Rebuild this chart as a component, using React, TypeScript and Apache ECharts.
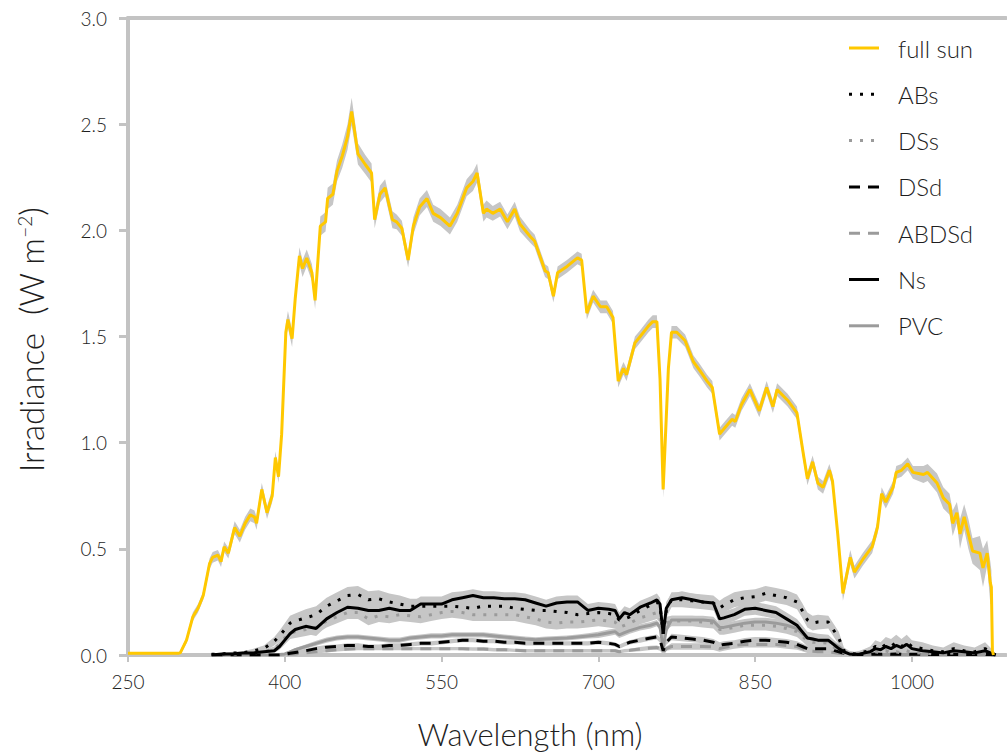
import React, { useEffect, useRef } from "react";
import * as echarts from "echarts";

// ---------------- data ----------------
const xTicks = [250, 400, 550, 700, 850, 1000];
const legendNames = ["full sun", "ABs", "DSs", "DSd", "ABDSd", "Ns", "PVC"];

const fullSunWl = [
  250, 260, 270, 280, 290, 298,
  300, 306, 312, 317, 322, 326, 328, 331, 336, 339, 342, 346,
  352, 357, 362, 367, 371, 373, 378, 383, 388, 391, 394, 397,
  401, 403, 407, 410, 414, 417, 421, 426, 429,
  434, 439, 441, 446, 450, 455, 460, 464,
  470, 477, 483, 486, 491, 496, 503, 507, 512, 518, 523, 529, 536, 542, 549,
  558, 565, 574, 580, 584, 590, 593, 599, 606, 613, 620, 625,
  635, 639, 649, 652, 657, 661, 670, 680, 684, 689, 695, 702, 708, 714, 719, 724, 727, 735, 740, 748, 752, 756,
  759, 762, 767, 770, 775, 783, 791, 797, 804, 809, 816, 821, 828, 831, 837, 845, 854, 861, 867, 871,
  881, 890, 896, 900, 905, 910, 915, 921, 924, 929, 934, 941, 945, 953, 962, 967, 971, 975, 982, 985, 990, 996, 1001,
  1011, 1015, 1024, 1030, 1036, 1039, 1043, 1046, 1050, 1054, 1058, 1065, 1068, 1072, 1075, 1076, 1077, 1078,
];
const fullSunVal = [
  0.008, 0.008, 0.008, 0.008, 0.008, 0.008,
  0.01, 0.07, 0.18, 0.22, 0.28, 0.38, 0.43, 0.46, 0.47, 0.44, 0.51, 0.48,
  0.6, 0.56, 0.62, 0.66, 0.65, 0.62, 0.78, 0.67, 0.75, 0.93, 0.84, 1.04,
  1.52, 1.58, 1.49, 1.68, 1.88, 1.82, 1.87, 1.8, 1.67,
  2.02, 2.04, 2.15, 2.17, 2.28, 2.35, 2.44, 2.56,
  2.36, 2.31, 2.27, 2.05, 2.17, 2.2, 2.05, 2.04, 2.01, 1.86, 2.02, 2.11, 2.15, 2.08, 2.06,
  2.02, 2.08, 2.2, 2.23, 2.27, 2.08, 2.1, 2.08, 2.1, 2.04, 2.1, 2.03,
  1.97, 1.95, 1.81, 1.8, 1.69, 1.8, 1.83, 1.87, 1.86, 1.61, 1.69, 1.64, 1.64, 1.59, 1.29, 1.35, 1.32, 1.47, 1.5, 1.55, 1.57, 1.57,
  1.3, 0.78, 1.35, 1.52, 1.52, 1.48, 1.38, 1.34, 1.29, 1.26, 1.04, 1.07, 1.11, 1.1, 1.18, 1.25, 1.15, 1.26, 1.17, 1.25,
  1.2, 1.14, 0.95, 0.83, 0.91, 0.81, 0.79, 0.87, 0.82, 0.57, 0.29, 0.46, 0.39, 0.45, 0.51, 0.6, 0.76, 0.72, 0.79, 0.86, 0.87, 0.9, 0.86,
  0.85, 0.86, 0.81, 0.74, 0.71, 0.62, 0.67, 0.57, 0.65, 0.57, 0.49, 0.48, 0.41, 0.48, 0.34, 0.32, 0.02, 0,
];
const fullSunSe = [
  0, 0, 0, 0, 0, 0,
  0.01, 0.015, 0.02, 0.02, 0.02, 0.025, 0.025, 0.025, 0.025, 0.025, 0.025, 0.025,
  0.03, 0.03, 0.03, 0.03, 0.03, 0.03, 0.03, 0.03, 0.03, 0.03, 0.03, 0.03,
  0.04, 0.04, 0.04, 0.04, 0.04, 0.04, 0.04, 0.04, 0.04,
  0.045, 0.045, 0.05, 0.05, 0.05, 0.055, 0.06, 0.065,
  0.05, 0.045, 0.045, 0.04, 0.04, 0.04, 0.04, 0.035, 0.035, 0.035, 0.04, 0.04, 0.04, 0.04, 0.04,
  0.04, 0.04, 0.04, 0.045, 0.045, 0.04, 0.04, 0.035, 0.035, 0.035, 0.035, 0.035,
  0.03, 0.03, 0.03, 0.03, 0.03, 0.03, 0.03, 0.03, 0.03, 0.03, 0.03, 0.03, 0.03, 0.03, 0.03, 0.03, 0.03, 0.03, 0.03, 0.03, 0.03, 0.03,
  0.03, 0.04, 0.03, 0.03, 0.03, 0.03, 0.03, 0.03, 0.03, 0.03, 0.03, 0.03, 0.03, 0.03, 0.03, 0.03, 0.03, 0.03, 0.03, 0.03,
  0.03, 0.03, 0.03, 0.03, 0.03, 0.03, 0.03, 0.03, 0.03, 0.03, 0.035, 0.035, 0.03, 0.03, 0.03, 0.03, 0.03, 0.03, 0.03, 0.03, 0.03, 0.03, 0.03,
  0.04, 0.04, 0.045, 0.05, 0.05, 0.06, 0.05, 0.07, 0.06, 0.07, 0.06, 0.08, 0.09, 0.06, 0.1, 0.08, 0.02, 0,
];

// understory wavelengths (shared by the six shade series)
const shadeWl = [
  330, 340, 350, 360, 370, 380, 390,
  395, 400, 405, 410,
  420, 430, 440, 450, 460, 470, 480, 490, 500, 510, 520, 530, 540, 550, 560, 570, 580, 590, 600, 610, 620, 630, 640, 650, 660, 670, 680, 690, 700, 710,
  716, 720, 725, 730,
  740, 750,
  756, 759, 762, 765,
  770, 780, 790, 800, 810,
  816,
  820, 830, 840, 850, 860, 870, 880, 890,
  895, 900, 905, 910,
  920, 930, 935, 940,
  945, 950, 955, 960, 965, 970, 975, 980, 985, 990, 995, 1000,
  1010, 1020, 1030, 1040, 1050, 1060, 1070,
  1075, 1080,
];

const nsVal = [
  0, 0.005, 0.005, 0.01, 0.01, 0.015, 0.02,
  0.04, 0.07, 0.1, 0.12,
  0.135, 0.125, 0.17, 0.2, 0.225, 0.22, 0.21, 0.21, 0.22, 0.21, 0.21, 0.24, 0.24, 0.24, 0.26, 0.27, 0.28, 0.27, 0.27, 0.265, 0.265, 0.26, 0.245, 0.23, 0.245, 0.25, 0.25, 0.21, 0.22, 0.215,
  0.21, 0.17, 0.2, 0.19,
  0.225, 0.245,
  0.26, 0.24, 0.1, 0.22,
  0.26, 0.27, 0.26, 0.25, 0.245,
  0.17,
  0.175, 0.19, 0.215, 0.22, 0.21, 0.2, 0.17, 0.14,
  0.11, 0.08, 0.075, 0.07,
  0.07, 0.03, 0.015, 0.005,
  0.003, 0.005, 0.01, 0.015, 0.03, 0.025, 0.04, 0.03, 0.045, 0.035, 0.05, 0.03,
  0.02, 0.015, 0.01, 0.02, 0.015, 0.01, 0.02,
  0.01, 0,
];
const nsSe = [
  0.005, 0.005, 0.005, 0.005, 0.005, 0.008, 0.01,
  0.015, 0.02, 0.025, 0.03,
  0.035, 0.035, 0.035, 0.035, 0.035, 0.035, 0.035, 0.035, 0.035, 0.035, 0.035, 0.035, 0.035, 0.035, 0.035, 0.03, 0.03, 0.03, 0.03, 0.03, 0.03, 0.03, 0.03, 0.03, 0.03, 0.03, 0.03, 0.03, 0.03, 0.03,
  0.03, 0.03, 0.03, 0.03,
  0.03, 0.03,
  0.03, 0.03, 0.03, 0.03,
  0.03, 0.03, 0.03, 0.03, 0.03,
  0.03,
  0.03, 0.03, 0.03, 0.03, 0.03, 0.03, 0.03, 0.03,
  0.03, 0.03, 0.03, 0.03,
  0.025, 0.02, 0.015, 0.01,
  0.01, 0.01, 0.015, 0.02, 0.03, 0.03, 0.035, 0.03, 0.035, 0.03, 0.035, 0.03,
  0.025, 0.02, 0.02, 0.03, 0.025, 0.02, 0.03,
  0.02, 0,
];

const absVal = [
  0.003, 0.005, 0.01, 0.01, 0.02, 0.03, 0.065,
  0.09, 0.12, 0.15, 0.16,
  0.175, 0.19, 0.23, 0.255, 0.28, 0.285, 0.26, 0.265, 0.25, 0.24, 0.23, 0.23, 0.23, 0.23, 0.23, 0.225, 0.22, 0.23, 0.23, 0.23, 0.22, 0.215, 0.21, 0.21, 0.205, 0.2, 0.19, 0.195, 0.2, 0.195,
  0.19, 0.165, 0.17, 0.18,
  0.21, 0.235,
  0.25, 0.23, 0.1, 0.21,
  0.26, 0.26, 0.255, 0.25, 0.245,
  0.22,
  0.235, 0.26, 0.27, 0.275, 0.29, 0.28, 0.27, 0.25,
  0.21, 0.165, 0.15, 0.155,
  0.155, 0.08, 0.02, 0.01,
  0.005, 0.01, 0.015, 0.02, 0.04, 0.03, 0.05, 0.04, 0.06, 0.04, 0.06, 0.04,
  0.03, 0.02, 0.015, 0.03, 0.02, 0.015, 0.03,
  0.015, 0,
];
const absSe = [
  0.005, 0.005, 0.005, 0.008, 0.01, 0.015, 0.02,
  0.025, 0.03, 0.035, 0.035,
  0.04, 0.04, 0.04, 0.04, 0.04, 0.04, 0.04, 0.04, 0.04, 0.04, 0.035, 0.035, 0.035, 0.035, 0.035, 0.035, 0.035, 0.035, 0.035, 0.035, 0.035, 0.035, 0.035, 0.035, 0.035, 0.035, 0.035, 0.035, 0.035, 0.035,
  0.035, 0.035, 0.035, 0.035,
  0.035, 0.035,
  0.035, 0.035, 0.035, 0.035,
  0.035, 0.035, 0.035, 0.035, 0.035,
  0.035,
  0.035, 0.035, 0.035, 0.035, 0.035, 0.035, 0.035, 0.035,
  0.035, 0.035, 0.035, 0.035,
  0.03, 0.03, 0.015, 0.01,
  0.01, 0.01, 0.015, 0.02, 0.03, 0.03, 0.035, 0.035, 0.035, 0.035, 0.035, 0.03,
  0.03, 0.025, 0.02, 0.03, 0.025, 0.02, 0.03,
  0.02, 0,
];

const dssVal = [
  0, 0, 0.003, 0.005, 0.01, 0.015, 0.03,
  0.05, 0.08, 0.1, 0.11,
  0.12, 0.13, 0.16, 0.18, 0.2, 0.2, 0.17, 0.185, 0.18, 0.19, 0.185, 0.18, 0.19, 0.2, 0.205, 0.2, 0.19, 0.19, 0.19, 0.19, 0.19, 0.18, 0.17, 0.155, 0.15, 0.155, 0.155, 0.16, 0.165, 0.16,
  0.155, 0.13, 0.14, 0.15,
  0.175, 0.19,
  0.2, 0.18, 0.06, 0.15,
  0.16, 0.16, 0.16, 0.155, 0.15,
  0.12,
  0.12, 0.13, 0.14, 0.14, 0.14, 0.135, 0.125, 0.11,
  0.09, 0.065, 0.06, 0.06,
  0.055, 0.02, 0.01, 0.005,
  0.005, 0.005, 0.01, 0.01, 0.015, 0.01, 0.02, 0.01, 0.015, 0.01, 0.02, 0.01,
  0.01, 0.005, 0.005, 0.01, 0.005, 0.01, 0.005,
  0.005, 0,
];
const dssSe = [
  0, 0, 0.003, 0.005, 0.005, 0.008, 0.01,
  0.015, 0.02, 0.025, 0.03,
  0.03, 0.03, 0.03, 0.03, 0.03, 0.03, 0.03, 0.03, 0.03, 0.03, 0.03, 0.03, 0.03, 0.03, 0.03, 0.03, 0.03, 0.03, 0.03, 0.03, 0.03, 0.03, 0.03, 0.03, 0.03, 0.03, 0.03, 0.03, 0.03, 0.03,
  0.03, 0.03, 0.03, 0.03,
  0.03, 0.03,
  0.03, 0.03, 0.03, 0.03,
  0.025, 0.025, 0.025, 0.025, 0.025,
  0.025,
  0.025, 0.025, 0.025, 0.025, 0.025, 0.025, 0.025, 0.025,
  0.025, 0.025, 0.025, 0.025,
  0.02, 0.015, 0.01, 0.005,
  0.005, 0.005, 0.01, 0.01, 0.015, 0.015, 0.02, 0.015, 0.02, 0.015, 0.02, 0.015,
  0.015, 0.01, 0.01, 0.015, 0.01, 0.01, 0.01,
  0.01, 0,
];

const dsdVal = [
  0, 0, 0, 0, 0, 0, 0,
  0, 0.003, 0.008, 0.012,
  0.02, 0.03, 0.037, 0.04, 0.045, 0.045, 0.04, 0.04, 0.045, 0.045, 0.05, 0.055, 0.055, 0.06, 0.065, 0.07, 0.07, 0.065, 0.065, 0.06, 0.06, 0.055, 0.055, 0.055, 0.055, 0.055, 0.055, 0.055, 0.06, 0.055,
  0.05, 0.04, 0.05, 0.06,
  0.07, 0.08,
  0.085, 0.07, 0.02, 0.06,
  0.085, 0.08, 0.075, 0.07, 0.06,
  0.045,
  0.05, 0.055, 0.065, 0.07, 0.07, 0.065, 0.06, 0.05,
  0.04, 0.03, 0.03, 0.03,
  0.03, 0.015, 0.008, 0.003,
  0.002, 0.002, 0.003, 0.003, 0.005, 0.003, 0.005, 0.003, 0.005, 0.003, 0.005, 0.003,
  0.003, 0.002, 0.002, 0.003, 0.002, 0.002, 0.002,
  0.002, 0,
];
const dsdSe = [
  0, 0, 0, 0, 0, 0, 0,
  0, 0.003, 0.005, 0.008,
  0.01, 0.01, 0.01, 0.01, 0.01, 0.01, 0.01, 0.01, 0.01, 0.01, 0.01, 0.01, 0.01, 0.01, 0.01, 0.01, 0.01, 0.01, 0.01, 0.01, 0.01, 0.01, 0.01, 0.01, 0.01, 0.01, 0.01, 0.01, 0.01, 0.01,
  0.01, 0.01, 0.01, 0.01,
  0.012, 0.012,
  0.012, 0.012, 0.01, 0.012,
  0.015, 0.015, 0.015, 0.015, 0.015,
  0.015,
  0.015, 0.015, 0.015, 0.015, 0.015, 0.015, 0.015, 0.015,
  0.015, 0.012, 0.012, 0.012,
  0.012, 0.01, 0.006, 0.003,
  0.002, 0.002, 0.003, 0.003, 0.004, 0.003, 0.004, 0.003, 0.004, 0.003, 0.004, 0.003,
  0.003, 0.002, 0.002, 0.003, 0.002, 0.002, 0.002,
  0.002, 0,
];

const abdsdVal = [
  0, 0, 0, 0, 0, 0, 0,
  0, 0, 0.003, 0.005,
  0.01, 0.015, 0.02, 0.025, 0.028, 0.03, 0.03, 0.03, 0.03, 0.03, 0.03, 0.03, 0.03, 0.03, 0.03, 0.03, 0.028, 0.028, 0.025, 0.025, 0.022, 0.02, 0.02, 0.02, 0.02, 0.02, 0.02, 0.02, 0.02, 0.02,
  0.02, 0.015, 0.02, 0.022,
  0.028, 0.033,
  0.035, 0.03, 0.01, 0.03,
  0.04, 0.04, 0.04, 0.04, 0.038,
  0.03,
  0.035, 0.045, 0.05, 0.05, 0.05, 0.05, 0.045, 0.04,
  0.03, 0.02, 0.018, 0.015,
  0.015, 0.008, 0.004, 0.002,
  0.002, 0.002, 0.002, 0.003, 0.002, 0.003, 0.002, 0.003, 0.002, 0.003, 0.002, 0.002,
  0.002, 0.002, 0.002, 0.002, 0.002, 0.002, 0.002,
  0.001, 0,
];
const abdsdSe = [
  0, 0, 0, 0, 0, 0, 0,
  0, 0, 0.003, 0.004,
  0.006, 0.008, 0.008, 0.008, 0.008, 0.008, 0.008, 0.008, 0.008, 0.008, 0.008, 0.008, 0.008, 0.008, 0.008, 0.008, 0.008, 0.008, 0.008, 0.008, 0.008, 0.008, 0.008, 0.008, 0.008, 0.008, 0.008, 0.008, 0.008, 0.008,
  0.008, 0.008, 0.008, 0.008,
  0.01, 0.01,
  0.01, 0.01, 0.008, 0.01,
  0.015, 0.015, 0.015, 0.015, 0.015,
  0.015,
  0.015, 0.015, 0.015, 0.015, 0.015, 0.015, 0.015, 0.015,
  0.012, 0.01, 0.01, 0.01,
  0.01, 0.006, 0.004, 0.002,
  0.002, 0.002, 0.002, 0.002, 0.002, 0.002, 0.002, 0.002, 0.002, 0.002, 0.002, 0.002,
  0.002, 0.002, 0.002, 0.002, 0.002, 0.002, 0.002,
  0.001, 0,
];

const pvcVal = [
  0, 0, 0, 0, 0, 0, 0,
  0.002, 0.005, 0.015, 0.025,
  0.04, 0.055, 0.07, 0.08, 0.085, 0.085, 0.08, 0.075, 0.07, 0.07, 0.08, 0.085, 0.09, 0.09, 0.095, 0.095, 0.095, 0.095, 0.09, 0.085, 0.08, 0.075, 0.072, 0.075, 0.078, 0.08, 0.085, 0.09, 0.095, 0.105,
  0.11, 0.095, 0.105, 0.115,
  0.13, 0.14,
  0.15, 0.13, 0.03, 0.12,
  0.165, 0.165, 0.165, 0.165, 0.16,
  0.13,
  0.13, 0.14, 0.15, 0.155, 0.155, 0.15, 0.14, 0.125,
  0.1, 0.08, 0.075, 0.07,
  0.065, 0.04, 0.02, 0.005,
  0.002, 0.002, 0.002, 0.002, 0.002, 0.002, 0.002, 0.002, 0.002, 0.002, 0.002, 0.002,
  0.002, 0.002, 0.002, 0.002, 0.002, 0.002, 0.002,
  0.001, 0,
];
const pvcSe = [
  0, 0, 0, 0, 0, 0, 0,
  0.002, 0.004, 0.006, 0.008,
  0.01, 0.012, 0.012, 0.012, 0.012, 0.012, 0.012, 0.012, 0.012, 0.012, 0.012, 0.012, 0.012, 0.012, 0.012, 0.012, 0.012, 0.012, 0.012, 0.012, 0.012, 0.012, 0.012, 0.012, 0.012, 0.012, 0.012, 0.012, 0.015, 0.015,
  0.015, 0.015, 0.015, 0.015,
  0.015, 0.015,
  0.015, 0.015, 0.01, 0.015,
  0.02, 0.02, 0.02, 0.02, 0.02,
  0.02,
  0.02, 0.02, 0.02, 0.02, 0.02, 0.02, 0.02, 0.02,
  0.02, 0.015, 0.015, 0.015,
  0.015, 0.012, 0.008, 0.003,
  0.002, 0.002, 0.002, 0.002, 0.002, 0.002, 0.002, 0.002, 0.002, 0.002, 0.002, 0.002,
  0.002, 0.002, 0.002, 0.002, 0.002, 0.002, 0.002,
  0.001, 0,
];

// ---------------- styling ----------------
const FONT = "Lato, 'Open Sans', sans-serif";
const TEXT = "#1e1e1e";
const AXIS = "#c3c3c3";
const BAND = "#c6c6c6";
const YELLOW = "#FFC800";
const GREY = "#9b9b9b";
const DOT: number[] = [3, 8];
const DASH: number[] = [11, 8];

type Spec = { name: string; wl: number[]; val: number[]; se: number[]; color: string; dash: number[] | null; z: number };

const specs: Spec[] = [
  { name: "PVC", wl: shadeWl, val: pvcVal, se: pvcSe, color: GREY, dash: null, z: 3 },
  { name: "ABDSd", wl: shadeWl, val: abdsdVal, se: abdsdSe, color: GREY, dash: DASH, z: 3 },
  { name: "DSd", wl: shadeWl, val: dsdVal, se: dsdSe, color: "#000", dash: DASH, z: 4 },
  { name: "DSs", wl: shadeWl, val: dssVal, se: dssSe, color: GREY, dash: DOT, z: 4 },
  { name: "ABs", wl: shadeWl, val: absVal, se: absSe, color: "#000", dash: DOT, z: 5 },
  { name: "Ns", wl: shadeWl, val: nsVal, se: nsSe, color: "#000", dash: null, z: 6 },
  { name: "full sun", wl: fullSunWl, val: fullSunVal, se: fullSunSe, color: YELLOW, dash: null, z: 7 },
];

const legendStyle: Record<string, { color: string; dash: number[] | null }> = {
  "full sun": { color: YELLOW, dash: null },
  ABs: { color: "#000", dash: DOT },
  DSs: { color: GREY, dash: DOT },
  DSd: { color: "#000", dash: DASH },
  ABDSd: { color: GREY, dash: DASH },
  Ns: { color: "#000", dash: null },
  PVC: { color: GREY, dash: null },
};

// band (mean ± SE) drawn as a polygon through the chart's own coordinate system
function bandSeries(s: Spec): any {
  return {
    type: "custom",
    name: s.name + " band",
    silent: true,
    clip: true,
    z: 1,
    data: [[s.wl[0], s.val[0]]],
    encode: { x: 0, y: 1 },
    renderItem: (_params: any, api: any) => {
      const upper = s.wl.map((x, i) => api.coord([x, s.val[i] + s.se[i]]));
      const lower = s.wl.map((x, i) => api.coord([x, Math.max(0, s.val[i] - s.se[i])])).reverse();
      return {
        type: "polygon",
        shape: { points: upper.concat(lower) },
        style: { fill: BAND, stroke: null },
      };
    },
  };
}

function lineSeries(s: Spec): any {
  return {
    type: "line",
    name: s.name,
    data: s.wl.map((x, i) => [x, s.val[i]]),
    symbol: "none",
    silent: true,
    z: s.z,
    itemStyle: { color: s.color },
    lineStyle: { color: s.color, width: 3, type: s.dash ? s.dash : "solid" },
    emphasis: { disabled: true },
  };
}

export default function App() {
  const ref = useRef<HTMLDivElement>(null);

  useEffect(() => {
    if (!ref.current) return;
    const chart = echarts.init(ref.current, undefined, { renderer: "svg" });

    const series: any[] = [];
    specs.forEach((s) => series.push(bandSeries(s)));
    specs.forEach((s) => series.push(lineSeries(s)));

    const legendEls: any[] = [];
    legendNames.forEach((n, i) => {
      const y = 48 + i * 46.3;
      const st = legendStyle[n];
      legendEls.push({
        type: "line",
        z: 100,
        shape: { x1: 849, y1: y, x2: 879, y2: y },
        style: { stroke: st.color, lineWidth: 3, lineDash: st.dash || undefined },
        silent: true,
      });
      legendEls.push({
        type: "text",
        z: 100,
        x: 898,
        y: y,
        style: { text: n, fill: TEXT, fontSize: 24, fontFamily: FONT, fontWeight: 300, verticalAlign: "middle", align: "left" },
        silent: true,
      });
    });

    const option: any = {
      animation: false,
      backgroundColor: "#fff",
      grid: { left: 128, top: 18, right: 1, bottom: 97, containLabel: false },
      xAxis: [
        {
          type: "value",
          min: 250,
          max: 1090,
          interval: 150,
          axisLine: { show: true, lineStyle: { color: AXIS, width: 4 } },
          axisTick: { show: true, inside: false, length: 7, lineStyle: { color: AXIS, width: 2 }, customValues: xTicks },
          axisLabel: {
            color: TEXT,
            fontSize: 19,
            fontFamily: FONT,
            fontWeight: 300,
            margin: 17,
            customValues: xTicks,
            formatter: (v: number) => (xTicks.indexOf(v) >= 0 ? String(v) : ""),
          },
          splitLine: { show: false },
        },
        {
          type: "value",
          position: "top",
          min: 250,
          max: 1090,
          axisLine: { show: true, lineStyle: { color: AXIS, width: 4 } },
          axisTick: { show: false },
          axisLabel: { show: false },
          splitLine: { show: false },
        },
      ],
      yAxis: {
        type: "value",
        min: 0,
        max: 3,
        interval: 0.5,
        axisLine: { show: true, lineStyle: { color: AXIS, width: 4 } },
        axisTick: { show: true, inside: false, length: 9, lineStyle: { color: AXIS, width: 3 } },
        axisLabel: {
          color: TEXT,
          fontSize: 19,
          fontFamily: FONT,
          fontWeight: 300,
          margin: 21,
          formatter: (v: number) => v.toFixed(1),
        },
        splitLine: { show: false },
      },
      series,
      graphic: [
        {
          type: "text",
          z: 100,
          x: 31,
          y: 340,
          rotation: Math.PI / 2,
          silent: true,
          style: {
            text: "{a|Irradiance  (W m}{s|−2}{a|)}",
            align: "center",
            verticalAlign: "middle",
            rich: {
              a: { fontSize: 33, fontFamily: FONT, fontWeight: 300, fill: TEXT, color: TEXT },
              s: { fontSize: 19, fontFamily: FONT, fontWeight: 300, fill: TEXT, color: TEXT, verticalAlign: "top" },
            },
          },
        },
        {
          type: "text",
          z: 100,
          x: 530,
          y: 734,
          silent: true,
          style: {
            text: "Wavelength (nm)",
            fill: TEXT,
            fontSize: 31,
            fontFamily: FONT,
            fontWeight: 300,
            align: "center",
            verticalAlign: "middle",
          },
        },
        ...legendEls,
      ],
    };

    chart.setOption(option);
    return () => chart.dispose();
  }, []);

  return (
    <div
      ref={ref}
      style={{ position: "absolute", left: 0, top: 0, width: 1007, height: 752, background: "#fff" }}
    />
  );
}
